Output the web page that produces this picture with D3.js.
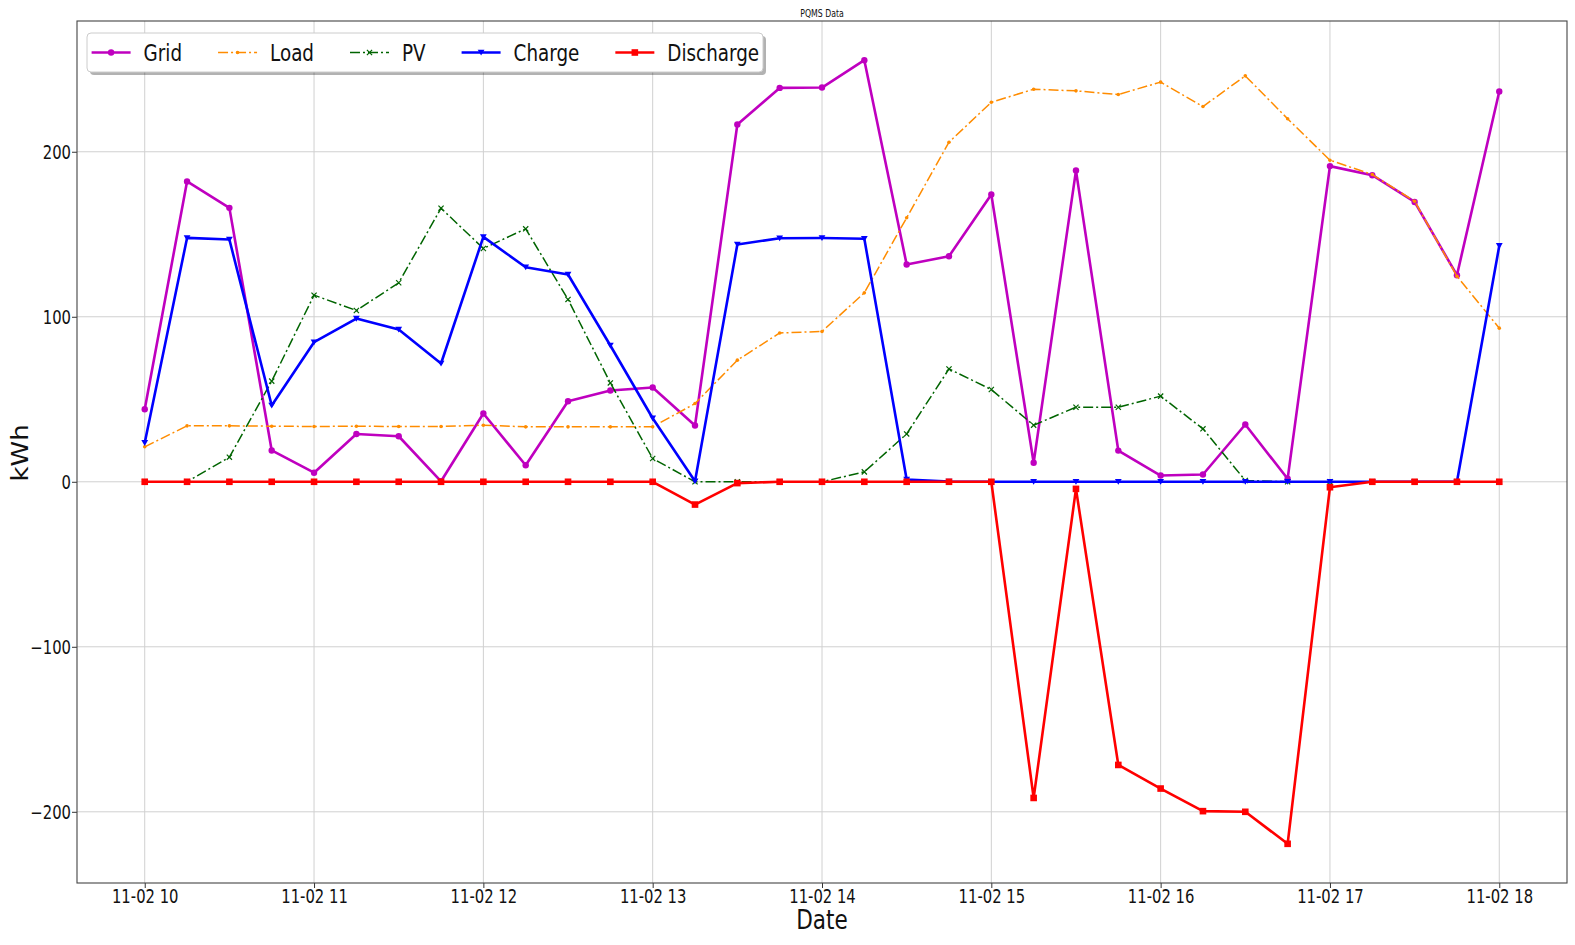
<!DOCTYPE html>
<html>
<head>
<meta charset="utf-8">
<script src="https://cdn.jsdelivr.net/npm/d3@7"></script>
<style>
  html, body { margin: 0; padding: 0; background: #fff; }
  svg { display: block; }
  text { font-family: "DejaVu Sans", sans-serif; fill: #111; }
</style>
</head>
<body>
<svg id="chart" width="1575" height="945"></svg>
<script>
// ---------------- data ----------------
const times = ["10:00","10:15","10:30","10:45","11:00","11:15","11:30","11:45",
  "12:00","12:15","12:30","12:45","13:00","13:15","13:30","13:45",
  "14:00","14:15","14:30","14:45","15:00","15:15","15:30","15:45",
  "16:00","16:15","16:30","16:45","17:00","17:15","17:30","17:45","18:00"];
const dateStr = "2020-11-02";

const grid = [44, 182, 166, 19, 5.5, 29, 27.6, 0.3, 41.4, 10, 48.8, 55.3, 57.1, 34.1, 216.5, 238.7,
  238.9, 255.5, 131.7, 136.7, 174.1, 11.5, 188.6, 18.9, 3.8, 4.4, 34.7, 1.8, 191.3, 185.8, 169.6, 125.2, 236.5];
const load = [21.2, 33.9, 33.9, 33.7, 33.5, 33.7, 33.5, 33.5, 34.3, 33.3, 33.3, 33.3, 33.3, 47.4, 73.7, 90.2,
  91.1, 114.5, 160, 205.8, 230, 237.9, 236.9, 234.7, 242.2, 227.4, 246, 220, 194.9, 186.2, 170, 124.6, 93.1];
const pv = [0, 0, 14.9, 61, 113.1, 103.8, 120.6, 165.8, 141.4, 153.3, 110.5, 59.9, 14.1, 0, 0, 0,
  0, 6, 29, 68.4, 55.9, 34.3, 45.2, 45.2, 51.9, 32.1, 0.8, 0, 0, 0, 0, 0, 0];
const charge = [23.6, 147.8, 146.8, 46.2, 84.6, 98.9, 92.3, 71.7, 148.4, 130, 125.6, 82.6, 38.5, 0.3, 143.8, 147.6,
  147.7, 147.3, 1.4, 0.2, 0, 0, 0, 0, 0, 0, 0, 0, 0, 0, 0, 0, 143];
const discharge = [0, 0, 0, 0, 0, 0, 0, 0, 0, 0, 0, 0, 0, -13.8, -0.8, 0,
  0, 0, 0, 0, 0, -191.6, -4.3, -171.6, -185.9, -199.6, -200, -219.4, -3.3, 0, 0, 0, 0];

const yTicks = [-200, -100, 0, 100, 200];
const chartTitle = "PQMS Data";
const xLabel = "Date";
const yLabel = "kWh";

const series = [
  { name: "Grid", values: grid, color: "#bf00bf", width: 2.6, dash: null, marker: "circle" },
  { name: "Load", values: load, color: "#ff8c00", width: 1.5, dash: "10,3,2,3", marker: "dot" },
  { name: "PV", values: pv, color: "#006400", width: 1.5, dash: "10,3,2,3", marker: "x" },
  { name: "Charge", values: charge, color: "#0000ff", width: 2.6, dash: null, marker: "tri" },
  { name: "Discharge", values: discharge, color: "#ff0000", width: 2.6, dash: null, marker: "square" }
];

// ---------------- layout ----------------
const SX = 0.78; // horizontal text compression seen in reference
const pL = 77, pR = 1567, pT = 21, pB = 883;
const parse = d3.timeParse("%Y-%m-%d %H:%M");
const dates = times.map(t => parse(dateStr + " " + t));

const svg = d3.select("#chart");

const t0 = dates[0], t1 = dates[dates.length - 1];
const span = t1 - t0;
const x = d3.scaleTime()
  .domain([new Date(+t0 - span * 0.05), new Date(+t1 + span * 0.05)])
  .range([pL, pR]);

const allVals = series.flatMap(s => s.values);
const vMin = d3.min(allVals), vMax = d3.max(allVals);
const vSpan = vMax - vMin;
const y = d3.scaleLinear()
  .domain([vMin - vSpan * 0.05, vMax + vSpan * 0.05])
  .range([pB, pT]);

// grid lines
const hourTicks = d3.timeHour.every(1).range(t0, new Date(+t1 + 1));
const gridG = svg.append("g");
gridG.selectAll("line.vx").data(hourTicks).join("line")
  .attr("x1", d => x(d)).attr("x2", d => x(d))
  .attr("y1", pT).attr("y2", pB)
  .attr("stroke", "#d0d0d0").attr("stroke-width", 1);
gridG.selectAll("line.hy").data(yTicks).join("line")
  .attr("x1", pL).attr("x2", pR)
  .attr("y1", d => y(d)).attr("y2", d => y(d))
  .attr("stroke", "#d0d0d0").attr("stroke-width", 1);

// clip
svg.append("clipPath").attr("id", "clip").append("rect")
  .attr("x", pL).attr("y", pT).attr("width", pR - pL).attr("height", pB - pT);

function drawMarker(g, type, color, cx, cy) {
  if (type === "circle") {
    g.append("circle").attr("cx", cx).attr("cy", cy).attr("r", 3.2).attr("fill", color);
  } else if (type === "dot") {
    g.append("circle").attr("cx", cx).attr("cy", cy).attr("r", 1.8).attr("fill", color);
  } else if (type === "x") {
    const s = 2.6;
    g.append("path").attr("d", `M${cx - s},${cy - s}L${cx + s},${cy + s}M${cx - s},${cy + s}L${cx + s},${cy - s}`)
      .attr("stroke", color).attr("stroke-width", 1.2).attr("fill", "none");
  } else if (type === "tri") {
    const s = 3.4;
    g.append("path").attr("d", `M${cx - s},${cy - s * 0.8}L${cx + s},${cy - s * 0.8}L${cx},${cy + s * 0.9}Z`)
      .attr("fill", color);
  } else if (type === "square") {
    const s = 3.3;
    g.append("rect").attr("x", cx - s).attr("y", cy - s).attr("width", 2 * s).attr("height", 2 * s)
      .attr("fill", color);
  }
}

const plotG = svg.append("g").attr("clip-path", "url(#clip)");
const line = d3.line().x((d, i) => x(dates[i])).y(d => y(d));

series.forEach(s => {
  const g = plotG.append("g");
  g.append("path")
    .attr("d", line(s.values))
    .attr("fill", "none")
    .attr("stroke", s.color)
    .attr("stroke-width", s.width)
    .attr("stroke-linejoin", "round")
    .attr("stroke-dasharray", s.dash);
  s.values.forEach((v, i) => drawMarker(g, s.marker, s.color, x(dates[i]), y(v)));
});

// axes
const xAxis = d3.axisBottom(x).tickValues(hourTicks).tickFormat(d3.timeFormat("%m-%d %H"))
  .tickSize(5).tickPadding(4);
const xg = svg.append("g").attr("transform", `translate(0,${pB})`).call(xAxis);
xg.select(".domain").remove();
xg.selectAll(".tick line").attr("stroke", "#333").attr("stroke-width", 1);
xg.selectAll(".tick text")
  .attr("y", 20).attr("dy", 0)
  .attr("transform", `scale(${SX},1)`)
  .style("font-size", "19px").style("font-family", "DejaVu Sans").attr("fill", "#111");

const yAxis = d3.axisLeft(y).tickValues(yTicks).tickSize(5).tickPadding(4);
const yg = svg.append("g").attr("transform", `translate(${pL},0)`).call(yAxis);
yg.select(".domain").remove();
yg.selectAll(".tick line").attr("stroke", "#333").attr("stroke-width", 1);
yg.selectAll(".tick text")
  .attr("x", -6 / SX).attr("dy", "0.36em")
  .attr("transform", `scale(${SX},1)`)
  .style("font-size", "19px").style("font-family", "DejaVu Sans").attr("fill", "#111");

// frame
svg.append("rect").attr("x", pL).attr("y", pT).attr("width", pR - pL).attr("height", pB - pT)
  .attr("fill", "none").attr("stroke", "#444").attr("stroke-width", 1.1);

// title & labels
svg.append("text")
  .attr("transform", `translate(${(pL + pR) / 2},17) scale(${SX},1)`)
  .attr("text-anchor", "middle").style("font-size", "10px").text(chartTitle);
svg.append("text")
  .attr("transform", `translate(${(pL + pR) / 2},929) scale(${SX + 0.05},1)`)
  .attr("text-anchor", "middle").style("font-size", "26px").text(xLabel);
svg.append("text")
  .attr("transform", `translate(28,453) rotate(-90) scale(1,0.9)`)
  .attr("text-anchor", "middle").style("font-size", "26px").text(yLabel);

// legend
const lg = svg.append("g");
const legX = 87, legY = 33, legH = 39;
const shadow = lg.append("rect");
const box = lg.append("rect");
const items = lg.append("g");
let hx = 91.6;
const handleLen = 39, textGap = 13, colGap = 36;
series.forEach((s, i) => {
  const g = items.append("g");
  const cy = legY + legH / 2;
  g.append("line").attr("x1", hx).attr("x2", hx + handleLen).attr("y1", cy).attr("y2", cy)
    .attr("stroke", s.color).attr("stroke-width", s.width).attr("stroke-dasharray", s.dash);
  drawMarker(g, s.marker, s.color, hx + handleLen / 2, cy);
  const tx = hx + handleLen + textGap;
  const t = g.append("text")
    .attr("transform", `translate(${tx},${cy + 8}) scale(${SX},1)`)
    .style("font-size", "23.5px").text(s.name);
  const w = t.node().getComputedTextLength() * SX;
  hx = tx + w + colGap;
});
const legW = 763 - legX;
shadow.attr("x", legX + 3).attr("y", legY + 3).attr("width", legW).attr("height", legH)
  .attr("rx", 4).attr("fill", "#000").attr("opacity", 0.3);
box.attr("x", legX).attr("y", legY).attr("width", legW).attr("height", legH)
  .attr("rx", 4).attr("fill", "#fff").attr("stroke", "#cccccc").attr("stroke-width", 1);
</script>
</body>
</html>
